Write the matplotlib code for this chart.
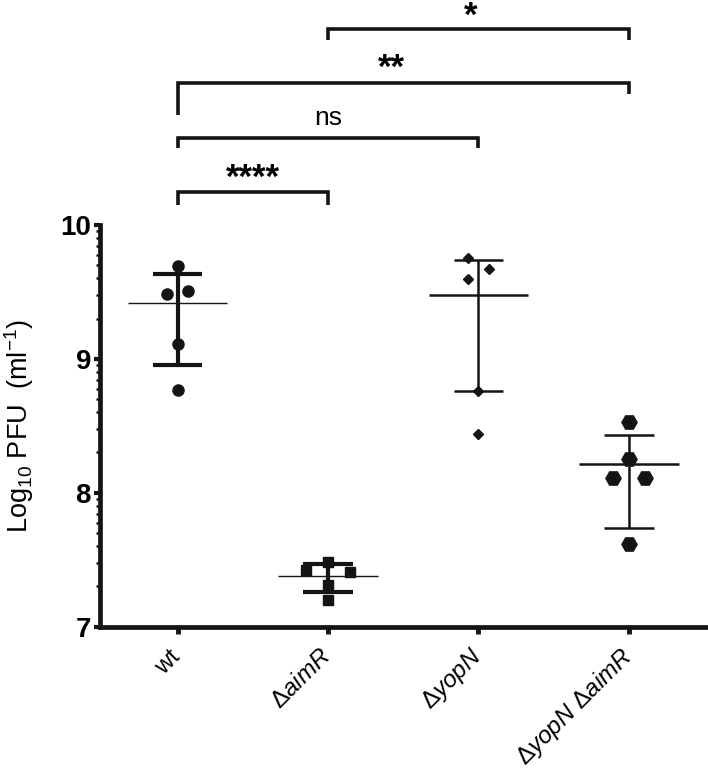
import numpy as np
import matplotlib.pyplot as plt
import matplotlib.transforms as mtransforms
from matplotlib.ticker import FixedLocator, LogLocator, NullFormatter

plt.rcParams['font.family'] = ['Liberation Sans', 'DejaVu Sans']
plt.rcParams['mathtext.fontset'] = 'custom'
plt.rcParams['mathtext.rm'] = 'Liberation Sans'
plt.rcParams['mathtext.it'] = 'Liberation Sans:italic'
plt.rcParams['mathtext.bf'] = 'Liberation Sans:bold'

# strains on the x axis
strains = [r'$\mathrm{wt}$', r'$\Delta\mathit{aimR}$', r'$\Delta\mathit{yopN}$',
           r'$\Delta\mathit{yopN}\ \Delta\mathit{aimR}$']

# log10 PFU/ml of each replicate
wt = [9.694, 9.485, 9.509, 9.109, 8.770]
aimr = [7.485, 7.423, 7.411, 7.311, 7.199]
yopn = [9.751, 9.671, 9.594, 8.763, 8.439]
yopn_aimr = [8.527, 8.252, 8.113, 8.113, 7.618]

# significance comparisons (group a, group b, label)
comparisons = [(0, 1, '****'), (0, 2, 'ns'), (0, 3, '**'), (1, 3, '*')]

groups = [wt, aimr, yopn, yopn_aimr]

# layout / style (not data)
jitter = [[0, -0.073, 0.073, 0, 0],
          [0, -0.146, 0.144, 0, 0],
          [-0.071, 0.073, -0.071, 0, 0],
          [0, 0, -0.108, 0.106, 0]]
markers = [('o', 8), ('s', 7.6), ('D', 5.4), ('H', 11)]
bar_lw = [3.0, 3.0, 1.8, 1.8]
mean_lw = [1.0, 1.0, 1.8, 1.8]
# bracket heights in log10 units: line, left leg end, right leg end, text
bracket_pos = [(10.244, 10.149, 10.149, 10.279),
               (10.652, 10.573, 10.573, 10.71),
               (11.063, 10.821, 10.982, 11.100),
               (11.462, 11.382, 11.382, 11.490)]
text_dx = [0, 0, -0.08, -0.053]

ink = '#141414'

fig = plt.figure(figsize=(7.08, 7.73), dpi=100)
ax = fig.add_axes([100 / 708, (773 - 626.7) / 773, 608 / 708, 401.7 / 773])

for i, vals in enumerate(groups):
    lin = 10 ** np.array(vals)
    m = lin.mean()
    s = lin.std(ddof=1)
    ax.vlines(i, m - s, m + s, color=ink, lw=bar_lw[i], zorder=2)
    ax.hlines([m - s, m + s], i - 0.166, i + 0.166, color=ink, lw=bar_lw[i], zorder=2)
    ax.hlines(m, i - 0.332, i + 0.332, color=ink, lw=mean_lw[i], zorder=2)
    mk, ms = markers[i]
    ax.plot(i + np.array(jitter[i]), lin, linestyle='none', marker=mk, ms=ms,
            color=ink, mec=ink, zorder=3)

ax.set_yscale('log')
ax.set_ylim(1e7, 1e10)
ax.set_xlim(-0.515, 3.525)
ax.yaxis.set_major_locator(FixedLocator([1e7, 1e8, 1e9, 1e10]))
ax.set_yticklabels(['7', '8', '9', '10'], fontsize=20, fontweight='bold')
ax.yaxis.set_minor_locator(LogLocator(base=10, subs=np.arange(2, 10)))
ax.yaxis.set_minor_formatter(NullFormatter())

ax.set_xticks(range(4))
ax.set_xticklabels(strains, rotation=45, ha='right', va='center',
                   rotation_mode='anchor', fontsize=17.5)
shift = mtransforms.ScaledTranslation(13 / 100, -2 / 100, fig.dpi_scale_trans)
for lbl in ax.get_xticklabels():
    lbl.set_transform(lbl.get_transform() + shift)

for side in ['top', 'right']:
    ax.spines[side].set_visible(False)
for side in ['left', 'bottom']:
    ax.spines[side].set_linewidth(3.4)
    ax.spines[side].set_color(ink)

ax.tick_params(axis='y', which='major', length=4.5, width=3, color=ink, pad=2)
ax.tick_params(axis='y', which='minor', length=3, width=1.8, color=ink)
ax.tick_params(axis='x', length=5, width=3.5, color=ink, pad=14)

ax.set_ylabel(r'Log$_{10}$ PFU  (ml$^{-1}$)', fontsize=19.5, labelpad=17)

for (a, b, lab), (lev, la, lb, ty), dx in zip(comparisons, bracket_pos, text_dx):
    ax.plot([a, a, b, b], [10 ** la, 10 ** lev, 10 ** lev, 10 ** lb], color=ink,
            lw=2.6, clip_on=False, solid_joinstyle='miter', solid_capstyle='butt')
    if lab == 'ns':
        ax.text((a + b) / 2 + dx, 10 ** ty, lab, ha='center', va='bottom', fontsize=19)
    else:
        ax.text((a + b) / 2 + dx, 10 ** ty, lab, ha='center', va='baseline',
                fontsize=25, fontweight='bold')

fig.savefig('out.png', dpi=100)
